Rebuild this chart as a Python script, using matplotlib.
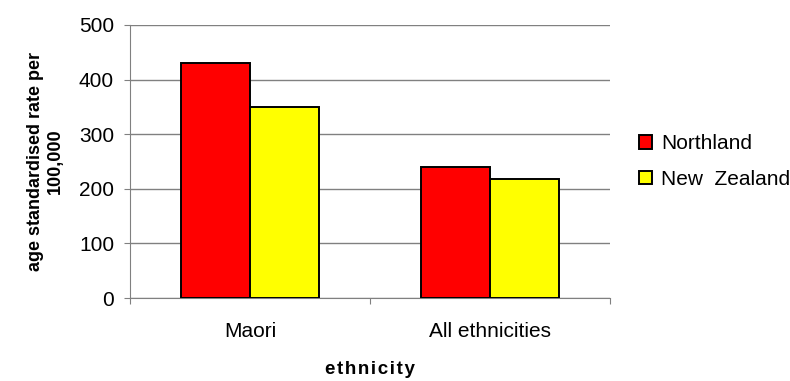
import matplotlib
matplotlib.use("Agg")
import matplotlib.pyplot as plt
import numpy as np

categories = ["Maori", "All ethnicities"]
series_names = ["Northland", "New  Zealand"]
northland = [431, 240]
new_zealand = [350, 218]
yticks = [0, 100, 200, 300, 400, 500]

plt.rcParams["font.family"] = ["Liberation Sans", "DejaVu Sans"]

fig = plt.figure(figsize=(7.9, 3.81), dpi=100)
ax = fig.add_axes([0.1646, 0.2178, 0.6076, 0.7166])

centers = np.arange(len(categories)) + 0.5
width = 1 / 3.5
ax.bar(centers - width / 2, northland, width, color="#ff0000", edgecolor="black",
       linewidth=1.4, label=series_names[0], zorder=3)
ax.bar(centers + width / 2, new_zealand, width, color="#ffff00", edgecolor="black",
       linewidth=1.4, label=series_names[1], zorder=3)

ax.set_xlim(0, len(categories))
ax.set_ylim(0, 500)
ax.set_yticks(yticks)
ax.yaxis.grid(True, color="#808080", linewidth=1)
ax.set_axisbelow(True)
for side in ("top", "right"):
    ax.spines[side].set_visible(False)
for side in ("left", "bottom"):
    ax.spines[side].set_color("#808080")
ax.tick_params(axis="y", labelsize=15, length=4.5, color="#808080", pad=7)

# boundaries get the tick marks, category names sit between them
ax.set_xticks(np.arange(len(categories) + 1))
ax.set_xticklabels([])
ax.tick_params(axis="x", which="major", length=4, color="#808080")
ax.set_xticks(centers, minor=True)
ax.set_xticklabels(categories, minor=True)
ax.tick_params(axis="x", which="minor", length=0, labelsize=15, pad=17)

ax.set_xlabel("\u200a".join("ethnicity"), fontsize=13.5, fontweight="bold", labelpad=15)
ax.set_ylabel("age standardised rate per\n100,000", fontsize=13, fontweight="bold", labelpad=11)

ax.legend(loc="center left", bbox_to_anchor=(1.03, 0.5), frameon=False, fontsize=15,
          handlelength=0.62, handleheight=0.62, handletextpad=0.45, labelspacing=0.8,
          borderaxespad=0.3)

fig.savefig("out.png", dpi=100)
